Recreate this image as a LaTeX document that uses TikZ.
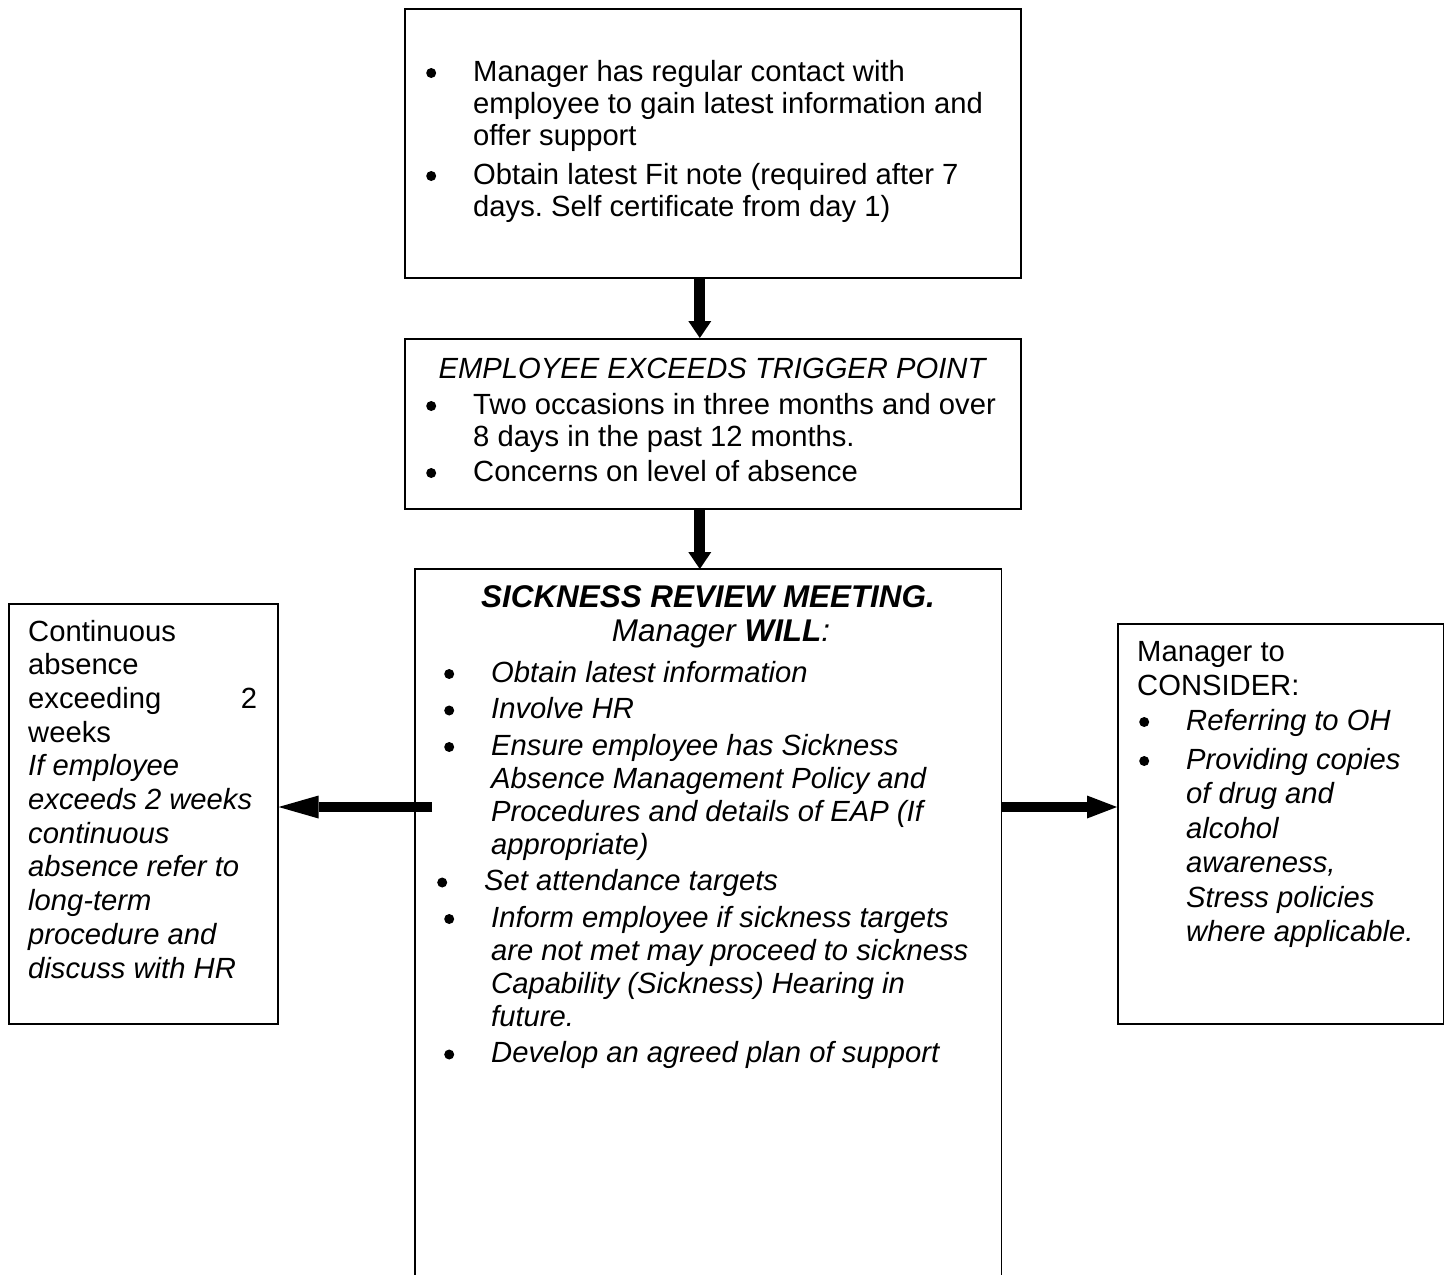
\documentclass[tikz,border=0pt]{standalone}
\usepackage{fontspec}
\setmainfont{Liberation Sans}
\usetikzlibrary{arrows.meta}
\tikzset{
  boxstyle/.style={draw, line width=1.6pt, inner sep=0pt, anchor=north west},
  txt/.style={anchor=base west, inner sep=0pt, font=\fontsize{29.2}{32}\selectfont},
  ctxt/.style={anchor=base, inner sep=0pt},
  downarrow/.style={line width=11pt, -{Triangle[length=17pt,width=23pt,line width=0pt 0]}},
  sidearrow/.style={line width=10.5pt, -{Triangle[length=#1,width=23pt,line width=0pt 0]}},
}
\newcommand\bul{\leavevmode\llap{\tikz[baseline=0pt]\fill (0pt,8pt) circle (5pt);\hspace{37pt}}}
\newcommand\tb[3]{\vtop{\hsize=#1\relax\frenchspacing\parindent=0pt\parskip=#2\relax\leftskip=0pt\rightskip=0pt plus 1fil\noindent #3\par}}
\begin{document}
\begin{tikzpicture}[x=1pt,y=-1pt]
\useasboundingbox (0,0) rectangle (1444,1275);

% boxes
\node[boxstyle, minimum width=616pt, minimum height=269pt] (top) at (404,8) {};
\node[boxstyle, minimum width=616pt, minimum height=170pt] (trig) at (404,338) {};
\node[inner sep=0pt, anchor=north west, minimum width=586pt, minimum height=706pt] (main) at (415,569) {};
\draw[line width=1.6pt] (main.south west) -- (main.north west) -- (main.north east) -- (main.south east);
\node[boxstyle, minimum width=269pt, minimum height=420pt] (left) at (8,603) {};
\node[boxstyle, minimum width=326pt, minimum height=400pt] (right) at (1117,623) {};

% top box text
\node[txt] (toptext) at (473,81) {\tb{560pt}{7pt}{%
\bul Manager has regular contact with\newline employee to gain latest information and\newline offer support\par
\bul Obtain latest Fit note (required after 7\newline days. Self certificate from day 1)}};

% trigger box text
\node[ctxt, font=\fontsize{29.2}{32}\selectfont\itshape] (trigtitle) at (712,378) {EMPLOYEE EXCEEDS TRIGGER POINT};
\node[txt] (trigtext) at (473,414) {\tb{560pt}{3pt}{%
\bul Two occasions in three months and over\newline 8 days in the past 12 months.\par
\bul Concerns on level of absence}};

% main box text
\node[ctxt, font=\fontsize{31.4}{34}\selectfont\bfseries\itshape] (maintitle) at (708,607) {SICKNESS REVIEW MEETING.};
\node[ctxt, font=\fontsize{31.4}{34}\selectfont\itshape] (mainsub) at (721,641) {Manager \textbf{WILL}:};
\node[txt, font=\fontsize{29.2}{33}\selectfont\itshape] (maintext) at (491,682) {\tb{540pt}{3.5pt}{%
\bul Obtain latest information\par
\bul Involve HR\par
\bul Ensure employee has Sickness\newline Absence Management Policy and\newline Procedures and details of EAP (If\newline appropriate)\par
\leavevmode\hspace*{-7pt}\bul Set attendance targets\par
\bul Inform employee if sickness targets\newline are not met may proceed to sickness\newline Capability (Sickness) Hearing in\newline future.\par
\bul Develop an agreed plan of support}};

% left box text
\node[txt, font=\fontsize{29.2}{33.7}\selectfont] (lefttext) at (28,641) {\tb{229pt}{0pt}{%
Continuous\newline absence\newline exceeding\hfill 2\newline weeks\newline
\itshape If employee\newline exceeds 2 weeks\newline continuous\newline absence refer to\newline long-term\newline procedure and\newline discuss with HR}};

% right box text
\node[txt, font=\fontsize{29.2}{34.5}\selectfont] (righttext) at (1137,661) {\tb{300pt}{0pt}{%
Manager to\newline CONSIDER:\par
{\leftskip=49pt\itshape
\bul Referring to OH\par
\vspace{4.5pt}%
\bul Providing copies\newline of drug and\newline alcohol\newline awareness,\newline Stress policies\newline where applicable.\par}}};

% arrows
\draw[downarrow] ([xshift=-13pt]top.south) -- ([xshift=-13pt]trig.north);
\draw[downarrow] ([xshift=-13pt]trig.south) -- ([xshift=-13pt]trig.south |- main.north);
\coordinate (lstart) at ([shift={(17pt,-238pt)}]main.north west);
\coordinate (rstart) at ([yshift=-238pt]main.north east);
\draw[sidearrow=40pt] (lstart) -- (lstart -| left.east);
\draw[sidearrow=30pt] (rstart) -- (rstart -| right.west);
\end{tikzpicture}
\end{document}
